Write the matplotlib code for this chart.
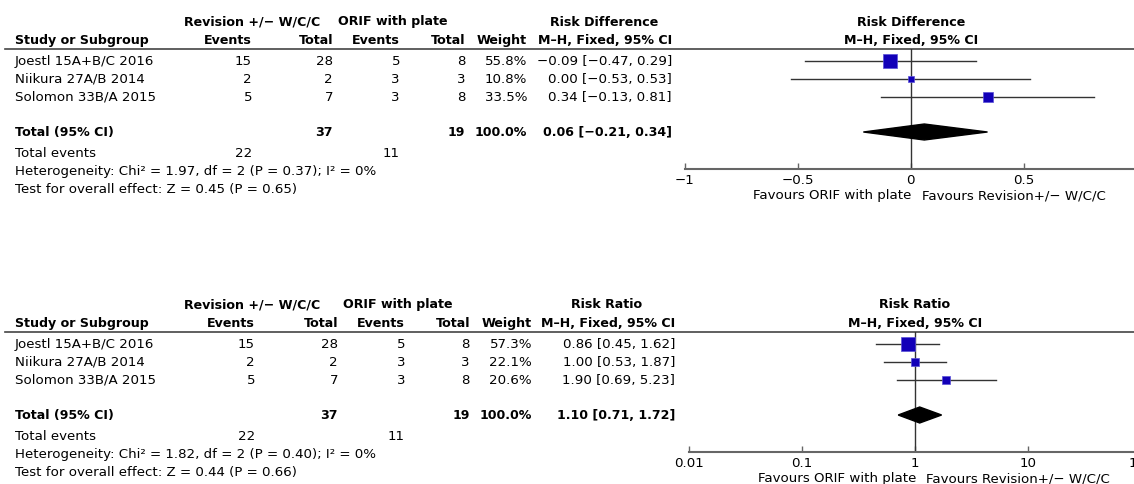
import matplotlib
matplotlib.use('Agg')
import matplotlib.pyplot as plt
import matplotlib.transforms as mtransforms
from matplotlib.patches import Polygon

# data
studies = ['Joestl 15A+B/C 2016', 'Niikura 27A/B 2014', 'Solomon 33B/A 2015']
rev_events = [15, 2, 5]
rev_total = [28, 2, 7]
orif_events = [5, 3, 3]
orif_total = [8, 3, 8]
rev_sum_events, rev_sum_total = 22, 37
orif_sum_events, orif_sum_total = 11, 19

rd_weight = [55.8, 10.8, 33.5]
rd_est = [-0.09, 0.00, 0.34]
rd_lo = [-0.47, -0.53, -0.13]
rd_hi = [0.29, 0.53, 0.81]
rd_total = [0.06, -0.21, 0.34]
rd_het = 'Heterogeneity: Chi² = 1.97, df = 2 (P = 0.37); I² = 0%'
rd_test = 'Test for overall effect: Z = 0.45 (P = 0.65)'
rd_ticks = [-1, -0.5, 0, 0.5, 1]
rd_ticklabels = ['−1', '−0.5', '0', '0.5', '1']

rr_weight = [57.3, 22.1, 20.6]
rr_est = [0.86, 1.00, 1.90]
rr_lo = [0.45, 0.53, 0.69]
rr_hi = [1.62, 1.87, 5.23]
rr_total = [1.10, 0.71, 1.72]
rr_het = 'Heterogeneity: Chi² = 1.82, df = 2 (P = 0.40); I² = 0%'
rr_test = 'Test for overall effect: Z = 0.44 (P = 0.66)'
rr_ticks = [0.01, 0.1, 1, 10, 100]
rr_ticklabels = ['0.01', '0.1', '1', '10', '100']

FS = 9.6      # regular text
FSB = 9.1     # bold text
BLUE = '#1200b8'
LINE = '#333333'
MH = 'M–H, Fixed, 95% CI'

fig = plt.figure(figsize=(11.34, 4.85), dpi=100)
bg = fig.add_axes([0, 0, 1, 1])
bg.set_xlim(0, 1134)
bg.set_ylim(485, 0)
bg.axis('off')


def fmt(v):
    return f'{v:.2f}'.replace('-', '−')


def ci_text(est, lo, hi):
    return f'{fmt(est)} [{fmt(lo)}, {fmt(hi)}]'


def txt(x, y, s, ha='left', bold=False):
    bg.text(x, y, s, ha=ha, va='center', fontsize=FSB if bold else FS,
            fontweight='bold' if bold else 'normal', color='black')


def panel(line_y, cols, title, weight, est, lo, hi, total, het, test,
          xlim, ax_px, log, ticks, ticklabels):
    rows = [line_y + 11.5, line_y + 29.5, line_y + 47.5]
    y_tot = line_y + 83
    y_ev = line_y + 103.5
    y_het = line_y + 121.5
    y_test = line_y + 139.5
    h1 = line_y - 28
    h2 = line_y - 9.5
    c_ev1, c_tot1, c_ev2, c_tot2, c_w, c_ci = cols

    # headers
    txt((180 + 325) / 2, h1, 'Revision +/− W/C/C', ha='center', bold=True)
    txt(c_tot2 - 72, h1, 'ORIF with plate', ha='center', bold=True)
    txt(c_ci - 68, h1, title, ha='center', bold=True)
    txt(15, h2, 'Study or Subgroup', bold=True)
    txt(c_ev1, h2, 'Events', ha='right', bold=True)
    txt(c_tot1, h2, 'Total', ha='right', bold=True)
    txt(c_ev2, h2, 'Events', ha='right', bold=True)
    txt(c_tot2, h2, 'Total', ha='right', bold=True)
    txt(c_w, h2, 'Weight', ha='right', bold=True)
    txt(c_ci, h2, MH, ha='right', bold=True)
    bg.plot([5, 1134], [line_y, line_y], color='#444444', lw=1.2)

    for i, y in enumerate(rows):
        txt(15, y, studies[i])
        txt(c_ev1, y, str(rev_events[i]), ha='right')
        txt(c_tot1, y, str(rev_total[i]), ha='right')
        txt(c_ev2, y, str(orif_events[i]), ha='right')
        txt(c_tot2, y, str(orif_total[i]), ha='right')
        txt(c_w, y, f'{weight[i]:.1f}%', ha='right')
        txt(c_ci, y, ci_text(est[i], lo[i], hi[i]), ha='right')

    txt(15, y_tot, 'Total (95% CI)', bold=True)
    txt(c_tot1, y_tot, str(rev_sum_total), ha='right', bold=True)
    txt(c_tot2, y_tot, str(orif_sum_total), ha='right', bold=True)
    txt(c_w, y_tot, '100.0%', ha='right', bold=True)
    txt(c_ci, y_tot, ci_text(*total), ha='right', bold=True)
    txt(15, y_ev, 'Total events')
    txt(c_ev1, y_ev, str(rev_sum_events), ha='right')
    txt(c_ev2, y_ev, str(orif_sum_events), ha='right')
    txt(15, y_het, het)
    txt(15, y_test, test)

    # forest plot axes, y in figure pixels
    axis_y = line_y + 120
    left, right = ax_px
    ax = fig.add_axes([left / 1134, (485 - axis_y) / 485,
                       (right - left) / 1134, 120 / 485])
    if log:
        ax.set_xscale('log')
    ax.set_xlim(*xlim)
    ax.set_ylim(axis_y, line_y)
    ax.patch.set_alpha(0)
    for s in ['top', 'right', 'left']:
        ax.spines[s].set_visible(False)
    ax.spines['bottom'].set_color('#666666')
    ax.spines['bottom'].set_linewidth(1.5)
    ax.spines['bottom'].set_clip_on(False)
    ax.set_yticks([])
    ax.set_xticks(ticks)
    ax.set_xticklabels(ticklabels)
    ax.minorticks_off()
    ax.tick_params(axis='x', direction='in', length=4, width=1,
                   color='#666666', pad=3, labelsize=FS)
    null = 1 if log else 0
    ax.axvline(null, color=LINE, lw=1)

    for i, y in enumerate(rows):
        ax.plot([lo[i], hi[i]], [y, y], color=LINE, lw=1, zorder=2)
        side = 1.8 * weight[i] ** 0.5 * 0.72
        ax.scatter([est[i]], [y], marker='s', s=side ** 2, color=BLUE,
                   edgecolors='#5a50d8', linewidths=0.5, zorder=3)
    t_est, t_lo, t_hi = total
    ax.add_patch(Polygon([[t_lo, y_tot], [t_est, y_tot - 8],
                          [t_hi, y_tot], [t_est, y_tot + 8]],
                         closed=True, color='black', zorder=3))

    tr = mtransforms.blended_transform_factory(ax.transData, bg.transData)
    tl = mtransforms.offset_copy(tr, fig=fig, x=1, units='dots')
    trr = mtransforms.offset_copy(tr, fig=fig, x=11, units='dots')
    bg.text(null, h1, title, transform=tr, ha='center', va='center',
            fontsize=FSB, fontweight='bold')
    bg.text(null, h2, MH, transform=tr, ha='center',
            va='center', fontsize=FSB, fontweight='bold')
    bg.text(null, axis_y + 29.5, 'Favours ORIF with plate', transform=tl,
            ha='right', va='baseline', fontsize=FS)
    bg.text(null, axis_y + 29.5, 'Favours Revision+/− W/C/C', transform=trr,
            ha='left', va='baseline', fontsize=FS)


panel(50, [252, 333, 400, 465, 527, 672], 'Risk Difference',
      rd_weight, rd_est, rd_lo, rd_hi, rd_total, rd_het, rd_test,
      (-1, 1), (685, 1136.5), False, rd_ticks, rd_ticklabels)
panel(333, [255, 338, 405, 470, 532, 675], 'Risk Ratio',
      rr_weight, rr_est, rr_lo, rr_hi, rr_total, rr_het, rr_test,
      (0.01, 100), (689, 1141), True, rr_ticks, rr_ticklabels)

fig.savefig('out.png', dpi=100)
